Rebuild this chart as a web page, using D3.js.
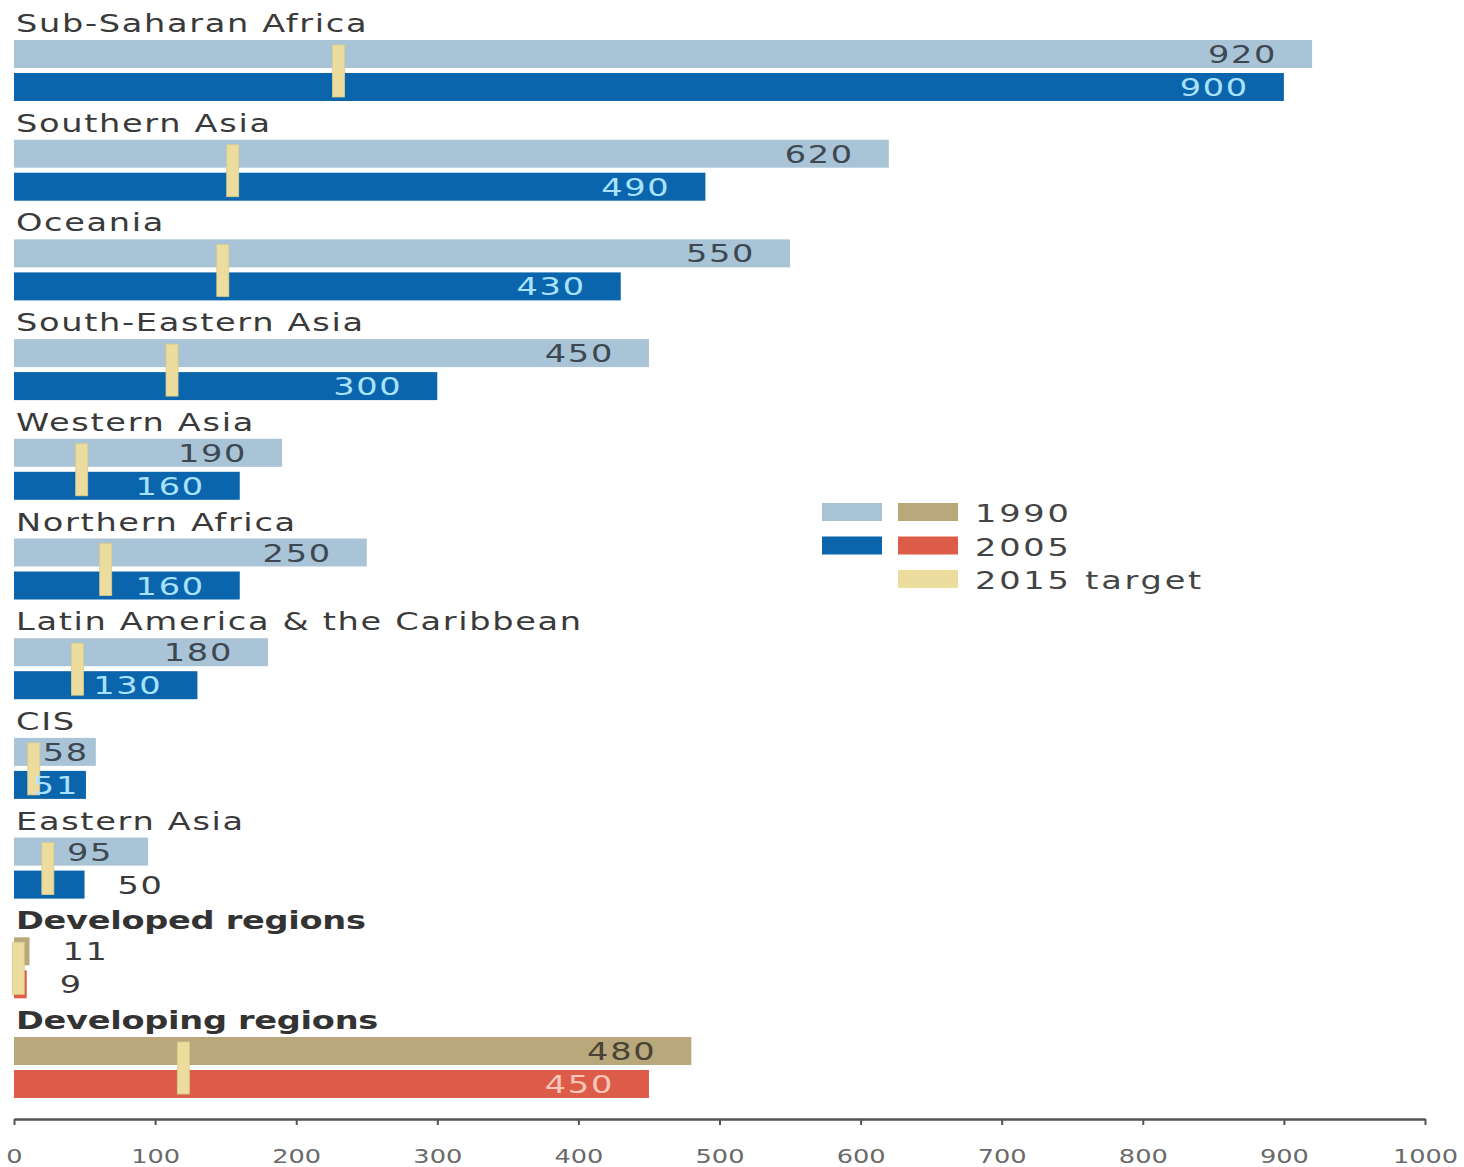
<!DOCTYPE html>
<html>
<head>
<meta charset="utf-8">
<script src="https://cdn.jsdelivr.net/npm/d3@7/dist/d3.min.js"></script>
<style>
  html, body { margin: 0; padding: 0; background: #ffffff; }
  svg { display: block; }
  text { font-family: "DejaVu Sans", sans-serif; }
</style>
</head>
<body>
<svg id="chart" width="1464" height="1167"></svg>
<script>
// ---- data ----
const categories = [
  "Sub-Saharan Africa", "Southern Asia", "Oceania", "South-Eastern Asia",
  "Western Asia", "Northern Africa", "Latin America & the Caribbean",
  "CIS", "Eastern Asia", "Developed regions", "Developing regions"
];
const values1990 = [920, 620, 550, 450, 190, 250, 180, 58, 95, 11, 480];
const values2005 = [900, 490, 430, 300, 160, 160, 130, 51, 50, 9, 450];
const target2015 = [230, 155, 148, 112, 48, 65, 45, 14, 24, 3, 120];
const aggregateCategories = ["Developed regions", "Developing regions"];
const tickValues = [0, 100, 200, 300, 400, 500, 600, 700, 800, 900, 1000];
const legendLabels = ["1990", "2005", "2015 target"];

// ---- styles ----
const C = {
  light: "#a9c4d6", dark: "#0b65ad", tan: "#b9a87c", red: "#dc5c49",
  target: "#ecdc9d", text: "#3a3a3a", onLight: "#3d4852", onDark: "#a9e2ff",
  onTan: "#4a4234", onRed: "#f7c6b8"
};
const SX = 1.4; // horizontal stretch of the lettering

const svg = d3.select("#chart");
const x = d3.scaleLinear().domain([0, 1000]).range([14, 1425]);
const y = d3.scaleBand().domain(categories).range([40, 40 + 11 * 99.7]).paddingInner(0).paddingOuter(0);
const barH = 28, gap2 = 33;

function stretchedText(parent, tx, ty, str, opts) {
  const t = parent.append("text")
    .attr("transform", `translate(${tx},${ty}) scale(${SX},1)`)
    .attr("text-anchor", opts.anchor || "start")
    .style("font-size", (opts.size || 24) + "px")
    .style("letter-spacing", (opts.ls == null ? 1.2 : opts.ls) + "px")
    .style("font-weight", opts.weight || "normal")
    .attr("fill", opts.fill || C.text)
    .text(str);
  return t;
}

const rows = categories.map((c, i) => ({
  cat: c, v1990: values1990[i], v2005: values2005[i], tgt: target2015[i],
  agg: aggregateCategories.includes(c)
}));

const g = svg.append("g");

rows.forEach(r => {
  const top = y(r.cat);
  // category label
  stretchedText(g, 16, top - 8, r.cat, r.agg ? { weight: "bold", ls: -0.2, fill: "#333" } : {});
  // bars
  g.append("rect").attr("x", x(0)).attr("y", top).attr("width", x(r.v1990) - x(0)).attr("height", barH)
    .attr("fill", r.agg ? C.tan : C.light);
  g.append("rect").attr("x", x(0)).attr("y", top + gap2).attr("width", x(r.v2005) - x(0)).attr("height", barH)
    .attr("fill", r.agg ? C.red : C.dark);
});

// target markers
rows.forEach(r => {
  const top = y(r.cat);
  g.append("rect").attr("x", x(r.tgt) - 6).attr("y", top + 5).attr("width", 12).attr("height", gap2 + barH - 9)
    .attr("fill", C.target).attr("stroke", "#d9cc8c").attr("stroke-width", 0.8);
});

// value labels
rows.forEach(r => {
  const top = y(r.cat);
  const markerRight = x(r.tgt) + 6;
  [[r.v1990, top, r.agg ? C.onTan : C.onLight], [r.v2005, top + gap2, r.agg ? C.onRed : C.onDark]].forEach(([v, by, col]) => {
    const end = x(v);
    const ty = by + barH / 2 + 9;
    const t = stretchedText(g, 0, ty, String(v), { anchor: "end", fill: col });
    const w = t.node().getComputedTextLength() * SX;
    if (end - 35 - w > markerRight + 4) {
      t.attr("transform", `translate(${end - 35},${ty}) scale(${SX},1)`);
    } else if (end - 7 - w > markerRight - 10) {
      t.attr("transform", `translate(${end - 7},${ty}) scale(${SX},1)`);
    } else {
      t.attr("text-anchor", "start").attr("fill", C.text)
        .attr("transform", `translate(${end + 33},${ty}) scale(${SX},1)`);
    }
  });
});

// axis
const axisY = 1119;
const ax = svg.append("g").attr("transform", `translate(0,${axisY})`)
  .call(d3.axisBottom(x).tickValues(tickValues).tickSize(6).tickSizeOuter(0).tickFormat(d3.format("d")));
ax.select(".domain").attr("stroke", "#555").attr("stroke-width", 2.5);
ax.selectAll(".tick line").attr("stroke", "#555").attr("stroke-width", 2);
ax.selectAll(".tick text")
  .attr("y", 0).attr("dy", null)
  .attr("transform", `translate(0,44) scale(1.35,1)`)
  .attr("fill", "#6a6a6a")
  .style("font-size", "19px")
  .style("font-family", "DejaVu Sans, sans-serif");

// legend
const legend = svg.append("g");
const legendSw = [
  [C.light, C.tan],
  [C.dark, C.red],
  [null, C.target]
];
legendLabels.forEach((lab, i) => {
  const ly = 503 + i * 33.5;
  const sw = legendSw[i];
  if (sw[0]) legend.append("rect").attr("x", 822).attr("y", ly).attr("width", 60).attr("height", 18).attr("fill", sw[0]);
  legend.append("rect").attr("x", 898).attr("y", ly).attr("width", 60).attr("height", 18).attr("fill", sw[1]);
  stretchedText(legend, 975, ly + 19, lab, { size: 24, ls: 2, fill: "#444" });
});
</script>
</body>
</html>
